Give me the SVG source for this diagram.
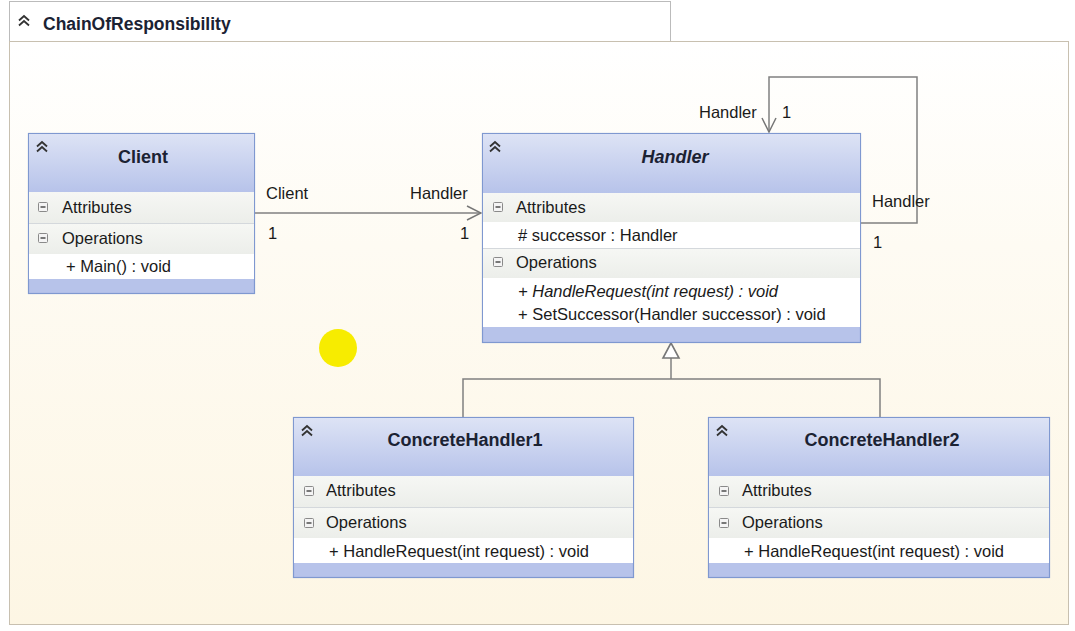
<svg xmlns="http://www.w3.org/2000/svg" width="1075" height="631" viewBox="0 0 1075 631">
<defs>
<linearGradient id="bg" x1="0" y1="0" x2="0" y2="1">
<stop offset="0" stop-color="#ffffff"/>
<stop offset="0.35" stop-color="#fefbf3"/>
<stop offset="1" stop-color="#fdf6e4"/>
</linearGradient>
<linearGradient id="hdr" x1="0" y1="0" x2="0" y2="1">
<stop offset="0" stop-color="#dde3f5"/>
<stop offset="1" stop-color="#b7c3ea"/>
</linearGradient>
<linearGradient id="cmp" x1="0" y1="0" x2="0" y2="1">
<stop offset="0" stop-color="#f6f7f4"/>
<stop offset="1" stop-color="#eceeea"/>
</linearGradient>
<g id="chev">
<path d="M0 5.5 L5 1 L10 5.5 M0 10.5 L5 6 L10 10.5" fill="none" stroke="#333" stroke-width="1.8"/>
</g>
<g id="minus">
<rect x="0.5" y="0.5" width="9" height="9" rx="1" fill="#f4f4f4" stroke="#8a8a8a" stroke-width="1"/>
<line x1="2.5" y1="5" x2="7.5" y2="5" stroke="#333" stroke-width="1.3"/>
</g>
<marker id="open" viewBox="0 0 16 16" refX="15" refY="8" markerWidth="16" markerHeight="16" markerUnits="userSpaceOnUse" orient="auto">
<path d="M1 1 L15 8 L1 15" fill="none" stroke="#777" stroke-width="1.5"/>
</marker>
</defs>
<style>
text{font-family:"Liberation Sans",Arial,sans-serif;fill:#1a1a1a}
.t{font-size:16.5px}
.title{font-size:18px;font-weight:bold;text-anchor:middle;fill:#1b2233}
.box{stroke:#7f98d0;stroke-width:1.2}
.line{fill:none;stroke:#808080;stroke-width:1.5}
.sep{stroke:#d4d8dc;stroke-width:1}
</style>
<rect width="1075" height="631" fill="#ffffff"/>
<!-- frame -->
<rect x="9.5" y="1.5" width="661" height="40" fill="#ffffff" stroke="#bbbbbb" stroke-width="1"/>
<rect x="9.5" y="41.5" width="1059" height="583" fill="url(#bg)" stroke="#c8c0b0" stroke-width="1"/>
<use href="#chev" x="19" y="15"/>
<text x="43" y="30" style="font-size:17.5px;font-weight:bold;fill:#1b2233">ChainOfResponsibility</text>

<circle cx="338" cy="348" r="19" fill="#f7ec00"/>

<g id="connectors">
<line class="line" x1="255" y1="213" x2="481" y2="213" marker-end="url(#open)"/>
<polyline class="line" points="861,223 917,223 917,77 769,77 769,132" marker-end="url(#open)"/>
<polyline class="line" points="463,417 463,379 880,379 880,417"/>
<line class="line" x1="671" y1="379" x2="671" y2="358"/>
<polygon points="671,343 663,358 679,358" fill="#ffffff" stroke="#777" stroke-width="1.6"/>
<text class="t" x="266" y="199">Client</text>
<text class="t" x="268" y="239">1</text>
<text class="t" x="410" y="199">Handler</text>
<text class="t" x="460" y="239">1</text>
<text class="t" x="699" y="118">Handler</text>
<text class="t" x="782" y="118">1</text>
<text class="t" x="872" y="207">Handler</text>
<text class="t" x="873" y="248">1</text>
</g>

<g id="client">
<rect class="box" x="28.5" y="133.5" width="226" height="160" fill="#b7c3ea"/>
<rect x="29" y="134" width="225" height="58" fill="url(#hdr)"/>
<rect x="29" y="192" width="225" height="31" fill="url(#cmp)"/>
<line class="sep" x1="29" y1="223.5" x2="254" y2="223.5"/>
<rect x="29" y="224" width="225" height="30" fill="url(#cmp)"/>
<rect x="29" y="254" width="225" height="25" fill="#ffffff"/>
<use href="#chev" x="37" y="141"/>
<text class="title" x="143" y="163">Client</text>
<use href="#minus" x="38" y="202"/>
<text class="t" x="62" y="213">Attributes</text>
<use href="#minus" x="38" y="233"/>
<text class="t" x="62" y="244">Operations</text>
<text class="t" x="66" y="272">+ Main() : void</text>
</g>

<g id="handler">
<rect class="box" x="482.5" y="133.5" width="378" height="209" fill="#b7c3ea"/>
<rect x="483" y="134" width="377" height="59" fill="url(#hdr)"/>
<rect x="483" y="193" width="377" height="29" fill="url(#cmp)"/>
<rect x="483" y="222" width="377" height="26" fill="#ffffff"/>
<line class="sep" x1="483" y1="248.5" x2="860" y2="248.5"/>
<rect x="483" y="249" width="377" height="29" fill="url(#cmp)"/>
<rect x="483" y="278" width="377" height="49" fill="#ffffff"/>
<use href="#chev" x="490" y="141"/>
<text class="title" x="675" y="163" font-style="italic">Handler</text>
<use href="#minus" x="493" y="202"/>
<text class="t" x="516" y="213">Attributes</text>
<text class="t" x="518" y="241"># successor : Handler</text>
<use href="#minus" x="493" y="257"/>
<text class="t" x="516" y="268">Operations</text>
<text class="t" x="518" y="297" font-style="italic">+ HandleRequest(int request) : void</text>
<text class="t" x="518" y="320">+ SetSuccessor(Handler successor) : void</text>
</g>

<g id="concrete1">
<rect class="box" x="293.5" y="417.5" width="340" height="160" fill="#b7c3ea"/>
<rect x="294" y="418" width="339" height="58" fill="url(#hdr)"/>
<rect x="294" y="476" width="339" height="31" fill="url(#cmp)"/>
<line class="sep" x1="294" y1="507.5" x2="633" y2="507.5"/>
<rect x="294" y="508" width="339" height="30" fill="url(#cmp)"/>
<rect x="294" y="538" width="339" height="25" fill="#ffffff"/>
<use href="#chev" x="302" y="425"/>
<text class="title" x="465" y="446">ConcreteHandler1</text>
<use href="#minus" x="304" y="486"/>
<text class="t" x="326" y="496">Attributes</text>
<use href="#minus" x="304" y="518"/>
<text class="t" x="326" y="528">Operations</text>
<text class="t" x="329" y="557">+ HandleRequest(int request) : void</text>
</g>

<g id="concrete2">
<rect class="box" x="708.5" y="417.5" width="341" height="160" fill="#b7c3ea"/>
<rect x="709" y="418" width="340" height="58" fill="url(#hdr)"/>
<rect x="709" y="476" width="340" height="31" fill="url(#cmp)"/>
<line class="sep" x1="709" y1="507.5" x2="1049" y2="507.5"/>
<rect x="709" y="508" width="340" height="30" fill="url(#cmp)"/>
<rect x="709" y="538" width="340" height="25" fill="#ffffff"/>
<use href="#chev" x="717" y="425"/>
<text class="title" x="882" y="446">ConcreteHandler2</text>
<use href="#minus" x="719" y="486"/>
<text class="t" x="742" y="496">Attributes</text>
<use href="#minus" x="719" y="518"/>
<text class="t" x="742" y="528">Operations</text>
<text class="t" x="744" y="557">+ HandleRequest(int request) : void</text>
</g>
</svg>
